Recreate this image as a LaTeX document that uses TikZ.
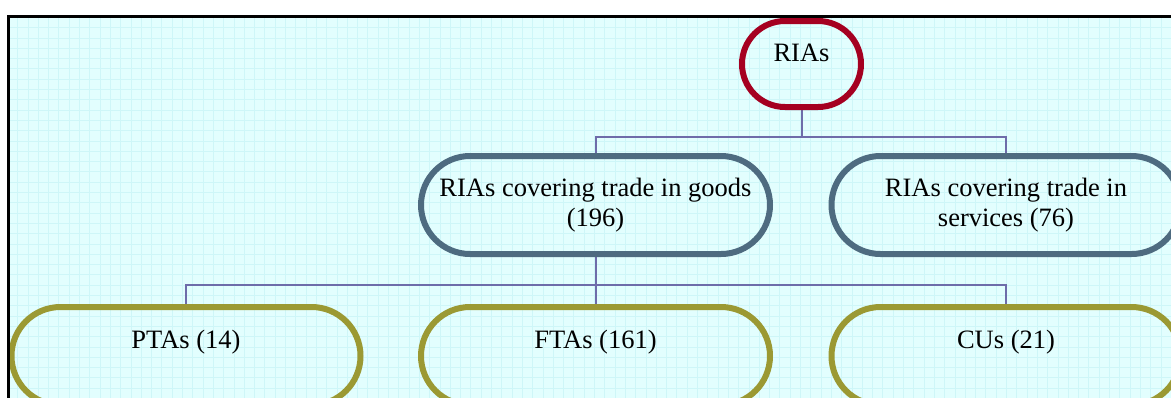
\documentclass[tikz,border=0pt]{standalone}
\usepackage{fontspec}
\setmainfont{Liberation Serif}
\usetikzlibrary{backgrounds}

\definecolor{riared}{RGB}{165,0,33}
\definecolor{riablue}{RGB}{78,107,128}
\definecolor{riaolive}{RGB}{155,153,51}
\definecolor{riawire}{RGB}{110,108,170}
\definecolor{riabg}{RGB}{226,254,254}
\definecolor{riagrid}{RGB}{206,246,248}

\begin{document}
\begin{tikzpicture}[x=1pt,y=1pt,box/.style={draw,line width=6pt,inner sep=0pt,
  align=center,font=\fontsize{26.5}{30}\selectfont}]

    % `top' is the RIAs box.
    % `mid' is used for the two boxes of the second row.
    % `leaf' is used for the boxes of the last row.
    \tikzstyle{top} = [box,draw=riared,rounded corners=43pt,minimum width=119pt,text height=40pt,text depth=46pt]
    \tikzstyle{mid} = [box,draw=riablue,rounded corners=49pt,minimum width=349pt,minimum height=98pt]
    \tikzstyle{leaf} = [box,draw=riaolive,rounded corners=49pt,minimum width=349pt,text height=41pt,text depth=57pt]
    \tikzstyle{wire} = [draw=riawire,line width=2pt]
    %
    \useasboundingbox (0,0) rectangle (1171,-397);

    % Boxes.
    \node[top,anchor=north] (rias) at (801.5,-18) {RIAs};
    \node[mid] (goods) at (595.5,-205) {RIAs covering trade in goods\\(196)};
    \node[mid] (services) at (1006,-205) {RIAs covering trade in\\services (76)};
    \node[leaf,anchor=north] (ptas) at (186,-304) {PTAs (14)};
    \node[leaf,anchor=north] (ftas) at (595.5,-304) {FTAs (161)};
    \node[leaf,anchor=north] (cus) at (1006,-304) {CUs (21)};

    \coordinate (bus1) at (801.5,-137);
    \coordinate (bus2) at (595.5,-285);

    \begin{pgfonlayer}{background}
        % Paper and grid.
        \fill[riabg] (8.5,-16.5) rectangle (1200,-420);
        \begin{scope}[shift={(17.5,-27.5)}]
            \draw[riagrid,line width=0.6pt,step=10.3pt] (-9,11) grid (1190,-400);
        \end{scope}
        % Draw lines.
        \draw[wire] (rias.south) -- (bus1) -| (goods.north) (bus1) -| (services.north);
        \draw[wire] (goods.south) -- (bus2) -| (ptas.north) (bus2) -| (cus.north) (bus2) -- (ftas.north);
    \end{pgfonlayer}

    % Frame.
    \draw[line width=2.5pt] (8.5,-16.5) rectangle (1200,-420);
    %
\end{tikzpicture}
\end{document}
